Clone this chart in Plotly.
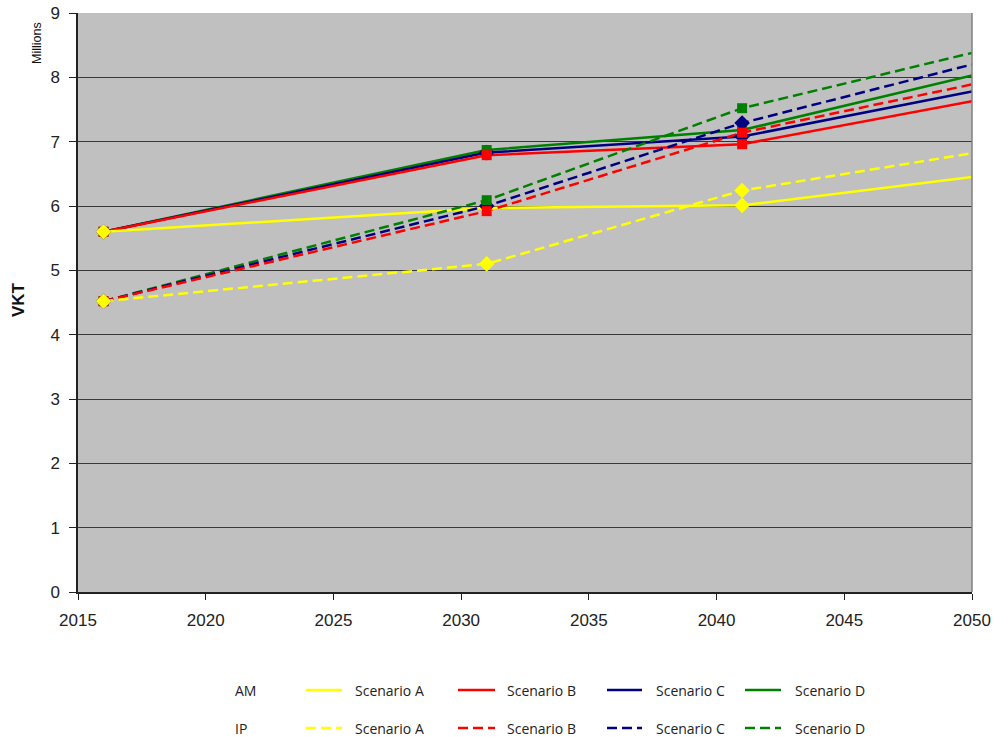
import plotly.graph_objects as go

# Vehicle kilometres travelled (millions), AM and IP periods, four scenarios
years = [2016, 2031, 2041, 2050]

am_a = [5.60, 5.97, 6.01, 6.45]
am_b = [5.60, 6.79, 6.96, 7.63]
am_c = [5.60, 6.83, 7.08, 7.78]
am_d = [5.60, 6.87, 7.18, 8.03]

ip_a = [4.52, 5.10, 6.24, 6.82]
ip_b = [4.52, 5.92, 7.14, 7.89]
ip_c = [4.52, 6.00, 7.29, 8.20]
ip_d = [4.52, 6.09, 7.52, 8.38]

scenario_names = ["Scenario A", "Scenario B", "Scenario C", "Scenario D"]
period_names = ["AM", "IP"]
y_ticks = [0, 1, 2, 3, 4, 5, 6, 7, 8, 9]
x_ticks = [2015, 2020, 2025, 2030, 2035, 2040, 2045, 2050]

colors = ["#FFFF00", "#FF0000", "#000080", "#008000"]
symbols = ["diamond", "square", "diamond", "square"]
marker_sizes = {"diamond": [12, 12, 12, 0], "square": [10, 10, 10, 0]}
dash_pattern = "10px,5px"

series = {
    "AM": [am_a, am_b, am_c, am_d],
    "IP": [ip_a, ip_b, ip_c, ip_d],
}

W, H = 995, 737
M_L, M_R, M_T, M_B = 78, 23, 13, 145
PW, PH = W - M_L - M_R, H - M_T - M_B


def px_x(px):
    return (px - M_L) / PW


def px_y(py):
    return (H - M_B - py) / PH


fig = go.Figure()

# all lines first, scenarios D..A so earlier scenarios sit on top
for period in period_names:
    dash = "solid" if period == "AM" else dash_pattern
    for i in reversed(range(4)):
        fig.add_trace(go.Scatter(
            x=years, y=series[period][i], mode="lines",
            name=f"{period} {scenario_names[i]}",
            line=dict(color=colors[i], width=2.5, dash=dash),
            showlegend=False, hoverinfo="skip",
        ))

# markers above every line (C, D, B, A stacking)
marker_order = [2, 3, 1, 0]
for period in period_names:
    for i in marker_order:
        fig.add_trace(go.Scatter(
            x=years, y=series[period][i], mode="markers",
            name=f"{period} {scenario_names[i]}",
            marker=dict(symbol=symbols[i], color=colors[i], opacity=1,
                        size=marker_sizes[symbols[i]], line=dict(width=0)),
            showlegend=False,
        ))

axis_font = dict(family="Liberation Sans, Arial, sans-serif", size=17, color="#222222")

fig.update_layout(
    width=W, height=H,
    margin=dict(l=M_L, r=M_R, t=M_T, b=M_B, autoexpand=False),
    paper_bgcolor="white",
    plot_bgcolor="#C0C0C0",
    xaxis=dict(
        range=[2015, 2050], tickvals=x_ticks, ticktext=[str(t) for t in x_ticks],
        showgrid=False, zeroline=False, automargin=False,
        showline=True, linecolor="#222222", linewidth=1.5,
        ticks="outside", ticklen=6, tickcolor="#222222", tickwidth=1.2,
        tickfont=axis_font, ticklabelstandoff=6,
    ),
    yaxis=dict(
        range=[0, 9], tickvals=y_ticks,
        showgrid=True, gridcolor="#383838", gridwidth=1.3, zeroline=False,
        automargin=False,
        showline=True, linecolor="#222222", linewidth=1.5,
        ticks="outside", ticklen=7, tickcolor="#222222", tickwidth=1.2,
        tickfont=axis_font, ticklabelstandoff=6,
    ),
    showlegend=False,
)

# right-hand border of the plot area
fig.add_shape(type="line", xref="paper", yref="paper", x0=1, x1=1, y0=0, y1=1,
              line=dict(color="#808080", width=1.5))

# axis titles
fig.add_annotation(text="<b>VKT</b>", xref="paper", yref="paper",
                   x=px_x(18), y=px_y(300), xanchor="center", yanchor="middle",
                   showarrow=False, textangle=-90,
                   font=dict(family="Liberation Sans, Arial, sans-serif", size=17, color="#111111"))
fig.add_annotation(text="Millions", xref="paper", yref="paper",
                   x=px_x(37), y=px_y(43), xanchor="center", yanchor="middle",
                   showarrow=False, textangle=-90,
                   font=dict(family="Liberation Sans, Arial, sans-serif", size=12.5, color="#111111"))

# two-row key: AM (solid) and IP (dashed)
legend_font = dict(family="Open Sans, sans-serif", size=14, color="#222222")
row_y = {"AM": 690, "IP": 728}
sample_x = [(306, 342), (458, 495), (607, 642), (745, 781)]
text_x = [353, 505, 654, 793]

for period in period_names:
    yy = px_y(row_y[period])
    fig.add_annotation(text=period, xref="paper", yref="paper", x=px_x(233), y=yy,
                       xanchor="left", yanchor="middle", showarrow=False, font=legend_font)
    dash = "solid" if period == "AM" else dash_pattern
    for i in range(4):
        x0, x1 = sample_x[i]
        fig.add_shape(type="line", xref="paper", yref="paper",
                      x0=px_x(x0), x1=px_x(x1), y0=yy, y1=yy,
                      line=dict(color=colors[i], width=2.5, dash=dash))
        fig.add_annotation(text=scenario_names[i], xref="paper", yref="paper",
                           x=px_x(text_x[i]), y=yy, xanchor="left", yanchor="middle",
                           showarrow=False, font=legend_font)

fig.write_html("out.html")
